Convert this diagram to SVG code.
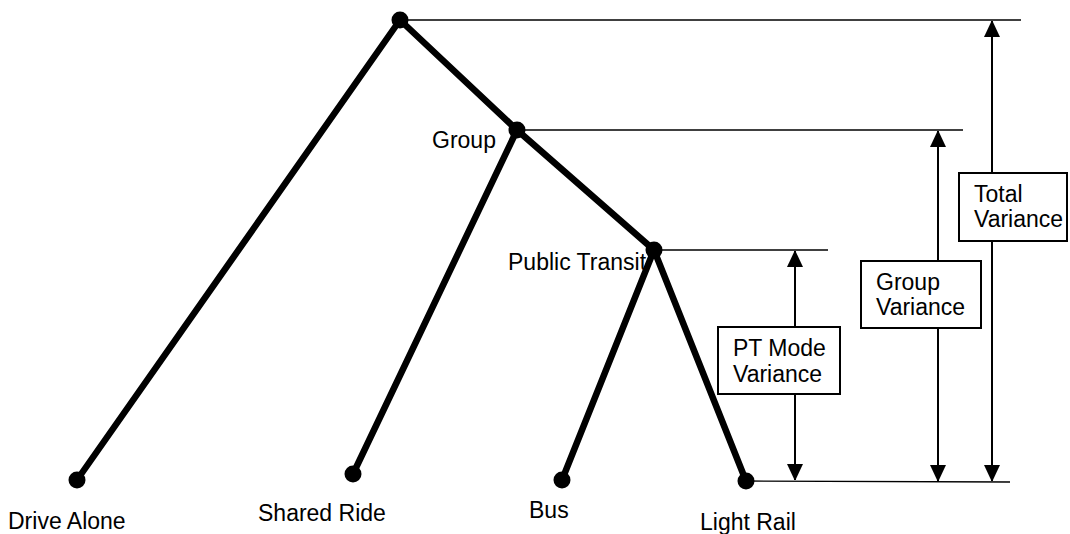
<svg xmlns="http://www.w3.org/2000/svg" width="1070" height="534" viewBox="0 0 1070 534">
<style>
.edge{stroke:#000;stroke-width:6.5;fill:none;stroke-linecap:round}
.ref{stroke:#000;stroke-width:1.3;fill:none}
.dim{stroke:#000;stroke-width:2;fill:none}
.dot{fill:#000}
.box{fill:#fff;stroke:#000;stroke-width:2}
text{font-family:"Liberation Sans",Arial,sans-serif;font-size:23px;fill:#000}
</style>
<defs>
<marker id="ah" viewBox="0 0 16 18" refX="16" refY="8" markerWidth="16" markerHeight="18" markerUnits="userSpaceOnUse" orient="auto">
<path d="M0,0 L17,8 L0,16 Z" fill="#000"/>
</marker>
</defs>
<g id="connectors">
<line class="edge" x1="400" y1="20" x2="77" y2="480"/>
<line class="edge" x1="400" y1="20" x2="517" y2="130"/>
<line class="edge" x1="517" y1="130" x2="353" y2="474"/>
<line class="edge" x1="517" y1="130" x2="654" y2="250"/>
<line class="edge" x1="654" y1="250" x2="562" y2="480"/>
<line class="edge" x1="654" y1="250" x2="746" y2="481"/>
<line class="ref" x1="400" y1="20" x2="1021" y2="20"/>
<line class="ref" x1="517" y1="130" x2="963" y2="130"/>
<line class="ref" x1="654" y1="250" x2="828" y2="250"/>
<line class="ref" x1="746" y1="481" x2="1010" y2="482"/>
<line class="dim" x1="795" y1="366" x2="795" y2="251" marker-end="url(#ah)"/>
<line class="dim" x1="795" y1="366" x2="795" y2="480" marker-end="url(#ah)"/>
<line class="dim" x1="938" y1="300" x2="938" y2="131" marker-end="url(#ah)"/>
<line class="dim" x1="938" y1="300" x2="938" y2="481" marker-end="url(#ah)"/>
<line class="dim" x1="992" y1="210" x2="992" y2="21" marker-end="url(#ah)"/>
<line class="dim" x1="992" y1="210" x2="992" y2="481" marker-end="url(#ah)"/>
</g>
<g id="root"><circle class="dot" cx="400" cy="20" r="8.5"/></g>
<g id="group"><circle class="dot" cx="517" cy="130" r="8.5"/><text x="432" y="148">Group</text></g>
<g id="public-transit"><circle class="dot" cx="654" cy="250" r="8.5"/><text x="508" y="270">Public Transit</text></g>
<g id="drive-alone"><circle class="dot" cx="77" cy="480" r="8.5"/><text x="8" y="529">Drive Alone</text></g>
<g id="shared-ride"><circle class="dot" cx="353" cy="474" r="8.5"/><text x="258" y="521">Shared Ride</text></g>
<g id="bus"><circle class="dot" cx="562" cy="480" r="8.5"/><text x="529" y="518">Bus</text></g>
<g id="light-rail"><circle class="dot" cx="746" cy="481" r="8.5"/><text x="700" y="530">Light Rail</text></g>
<g id="pt-mode-variance"><rect class="box" x="718" y="327" width="122" height="67"/><text x="733" y="356">PT Mode</text><text x="733" y="382">Variance</text></g>
<g id="group-variance"><rect class="box" x="861" y="261" width="120" height="67"/><text x="876" y="290">Group</text><text x="876" y="315">Variance</text></g>
<g id="total-variance"><rect class="box" x="959" y="173" width="108" height="68"/><text x="974" y="202">Total</text><text x="974" y="227">Variance</text></g>
</svg>
